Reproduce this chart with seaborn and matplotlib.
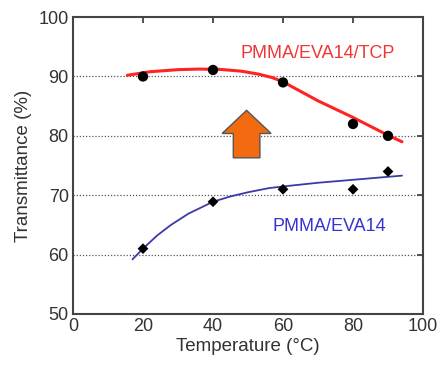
import matplotlib
matplotlib.use("Agg")
import matplotlib.pyplot as plt
import numpy as np
import pandas as pd
import seaborn as sns

# Pontos medidos
temp = [20, 40, 60, 80, 90]
trans_tcp = [90.0, 91.1, 89.0, 82.0, 80.0]
trans_eva = [61.0, 68.9, 71.0, 71.0, 74.0]

# Curvas de ajuste
fit_tcp_x = [15.5, 22, 30, 36, 42, 48, 53, 57, 60, 65, 70, 75, 80, 85, 90, 94]
fit_tcp_y = [90.2, 90.8, 91.15, 91.25, 91.2, 90.9, 90.4, 89.8, 89.1, 87.5, 85.9, 84.5, 83.1, 81.6, 80.1, 79.0]
fit_eva_x = [17, 20, 24, 28, 33, 40, 45, 50, 56, 62, 70, 76, 82, 88, 94]
fit_eva_y = [59.2, 61.0, 63.2, 65.0, 66.9, 68.9, 69.8, 70.5, 71.2, 71.6, 72.1, 72.4, 72.7, 73.0, 73.3]

sns.set_style("white")
plt.rcParams["font.family"] = ["Liberation Sans", "DejaVu Sans"]

fig = plt.figure(figsize=(4.37, 3.72), dpi=100)
ax = fig.add_axes([0.167, 0.156, 0.801, 0.798])

sns.lineplot(x=fit_tcp_x, y=fit_tcp_y, ax=ax, color="#ff2424", linewidth=2.2, zorder=3)
sns.lineplot(x=fit_eva_x, y=fit_eva_y, ax=ax, color="#3a3aa8", linewidth=1.3, zorder=3)
sns.scatterplot(x=temp, y=trans_tcp, ax=ax, color="black", marker="o", s=55,
                edgecolor="none", zorder=4)
sns.scatterplot(x=temp, y=trans_eva, ax=ax, color="black", marker="D", s=30,
                edgecolor="none", zorder=4)

# seta laranja
ax.arrow(49.6, 76.3, 0, 8.0, width=7.6, head_width=14.0, head_length=3.9,
         length_includes_head=True, fc="#f26b10", ec="#555555", lw=1.0, zorder=5)

ax.text(47.9, 93.9, "PMMA/EVA14/TCP", color="#f03535", fontsize=13, va="center", ha="left")
ax.text(57.1, 64.7, "PMMA/EVA14", color="#3434d0", fontsize=13, va="center", ha="left")

ax.set_xlim(0, 100)
ax.set_ylim(50, 100)
ax.set_xticks(np.arange(0, 101, 20))
ax.set_yticks(np.arange(50, 101, 10))
for yv in [60, 70, 80, 90]:
    ax.axhline(yv, color="#555555", linestyle=(0, (1, 1.5)), linewidth=0.9, zorder=1)

ax.tick_params(direction="in", length=4, width=1.2, top=True, right=True,
               labelsize=13, colors="#333333", pad=3)
for sp in ax.spines.values():
    sp.set_color("#444444")
    sp.set_linewidth(1.5)

ax.set_xlabel("Temperature (°C)", fontsize=13.5, color="#333333", labelpad=2)
ax.set_ylabel("Transmittance (%)", fontsize=13.5, color="#333333", labelpad=5)

fig.savefig("out.png", dpi=100)
plt.close()
